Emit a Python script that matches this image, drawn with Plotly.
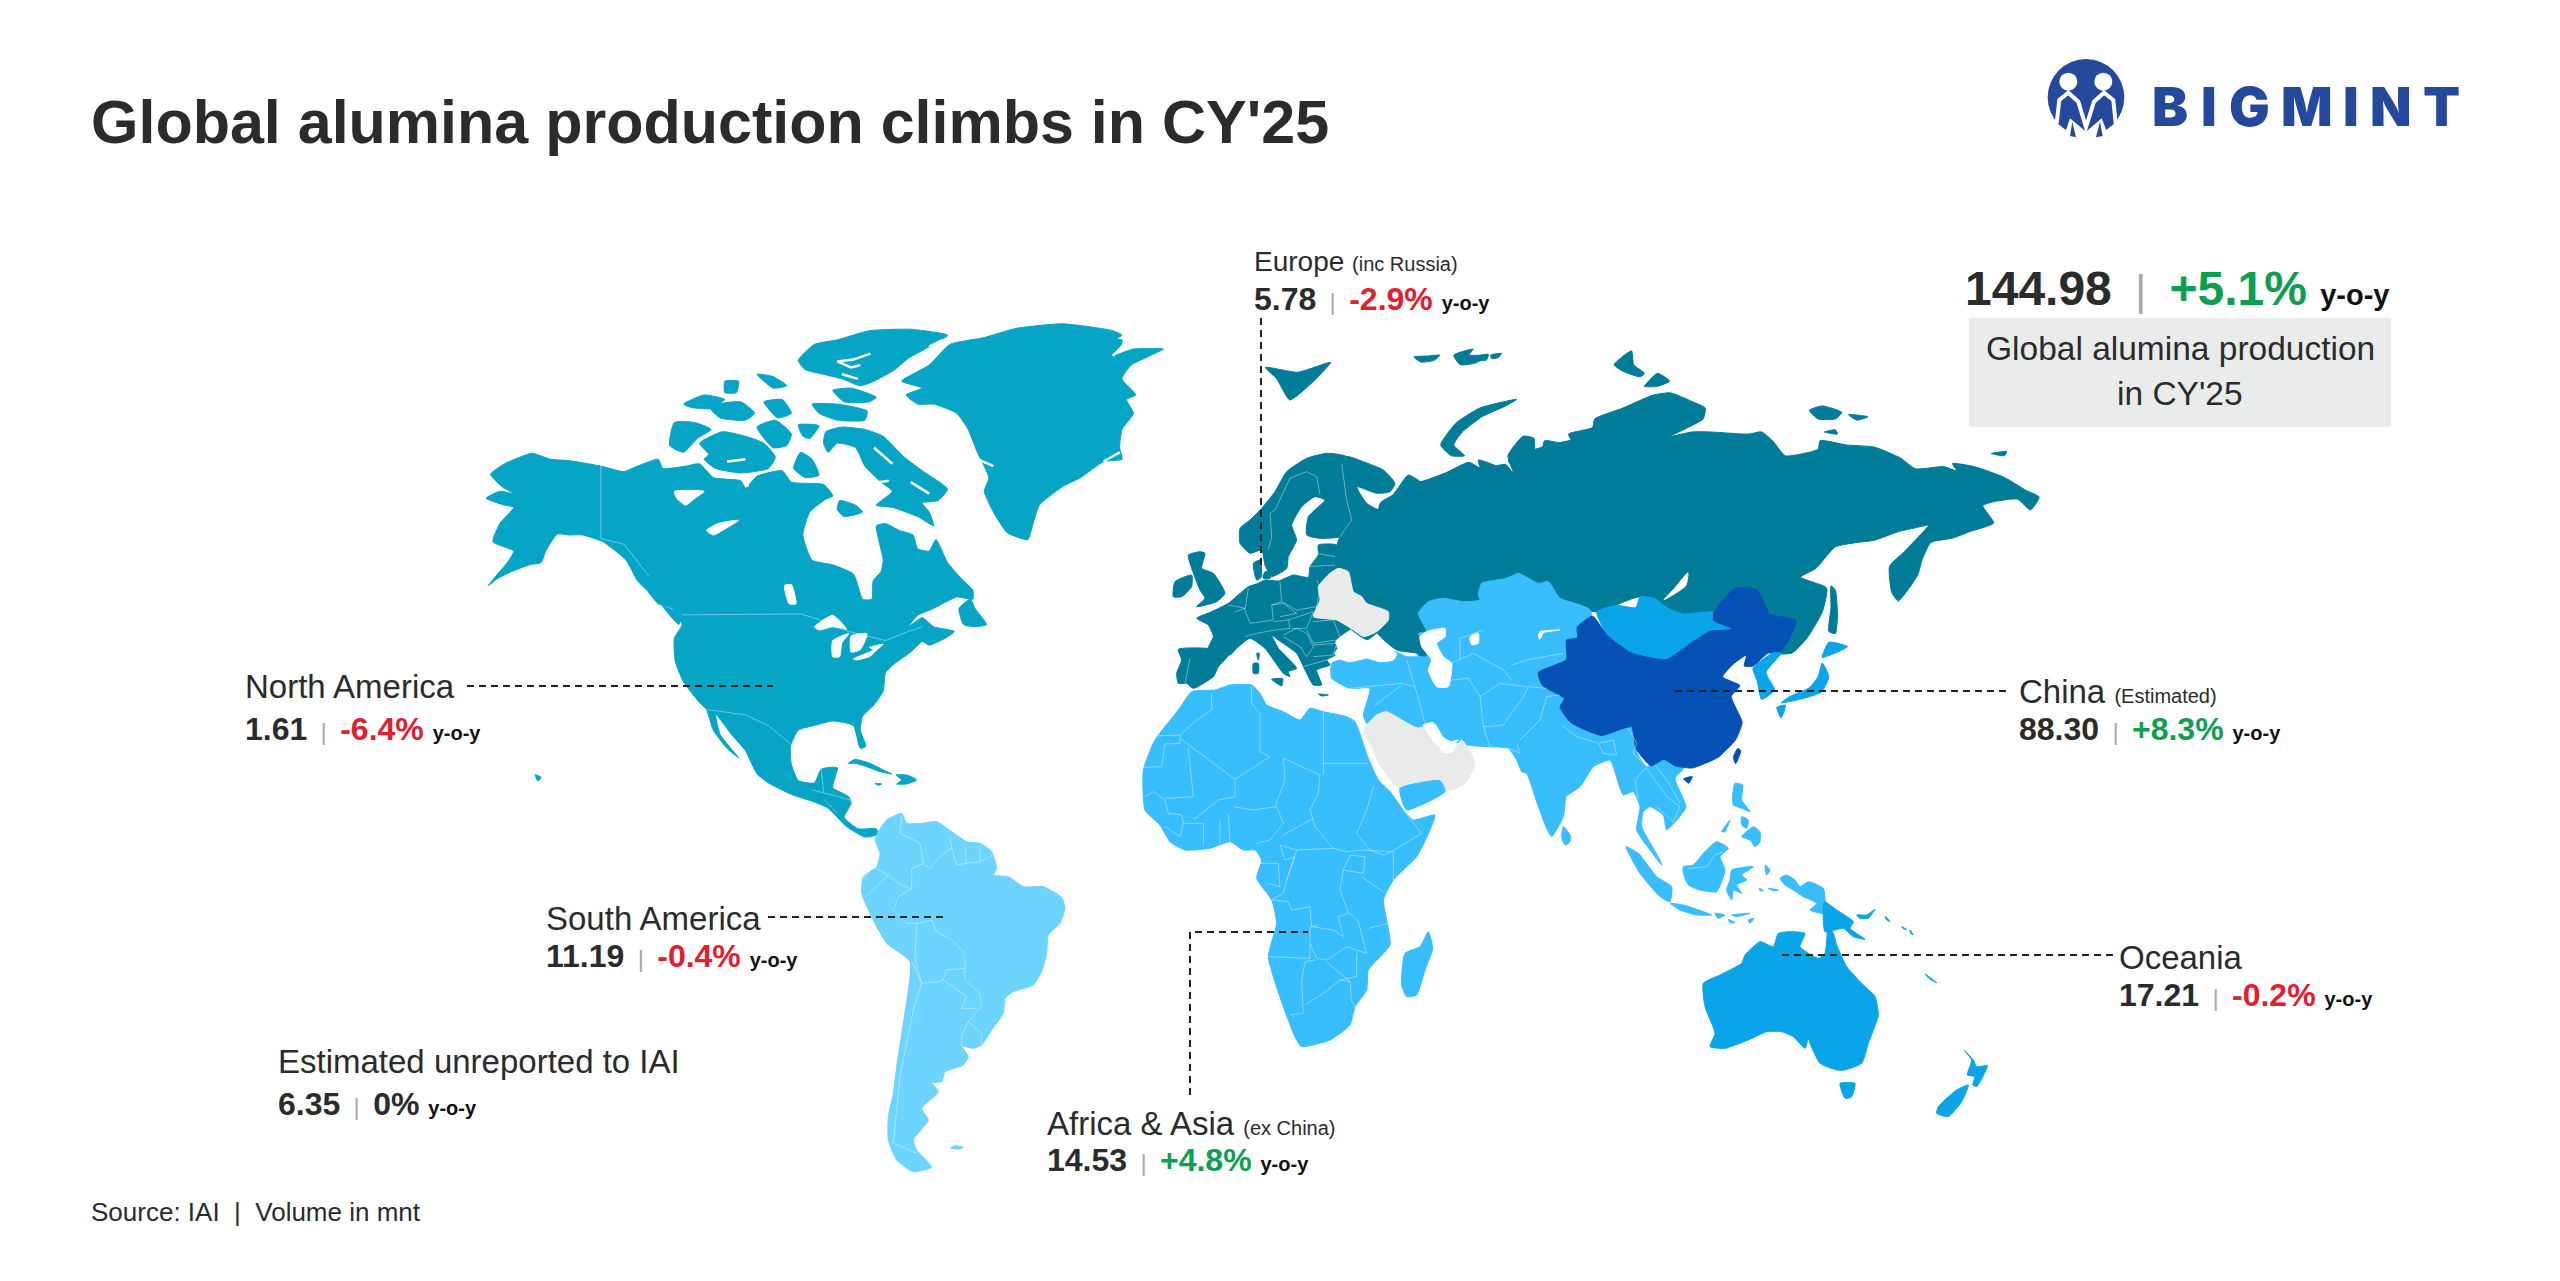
import plotly.graph_objects as go

FONT = "Liberation Sans"
DARK = "#2b2b2b"
RED = "#e0202e"
GREEN = "#0f9d50"

# colours of the map groups
C_NA = "#06a5c5"
C_EU = "#007c98"
C_AS = "#38bdff"
C_SA = "#6dd3ff"
C_CN = "#0450b4"
C_OC = "#0aa5e8"
C_NO = "#e9ebeb"

# the values printed on the chart
regions = ["North America", "South America", "Africa & Asia", "Europe", "China", "Oceania", "Estimated unreported to IAI"]
region_notes = ["", "", "(ex China)", "(inc Russia)", "(Estimated)", "", ""]
volumes = ["1.61", "11.19", "14.53", "5.78", "88.30", "17.21", "6.35"]
changes = ["-6.4%", "-0.4%", "+4.8%", "-2.9%", "+8.3%", "-0.2%", "0%"]
global_volume = "144.98"
global_change = "+5.1%"

# outlines were traced off enlarged crops, so each carries the crop it came from
# (left, top, zoom)
A = (470, 310, 2.178)
B = (1150, 440, 3)
C = (1380, 330, 2.306)
D = (1560, 700, 3)
E = (1120, 660, 3)
F = (680, 660, 3)
G = (2020, 40, 3)
V = (0, 0, 0.6125)

north_america = [(45,358),(75,335),(105,322),(135,312),(175,325),(215,328),(285,340),(335,352),(365,340),(410,325),(420,345),(470,340),(500,335),(530,365),(590,372),(600,388),(625,362),(680,350),(700,375),(770,380),(790,405),(775,412),(740,440),(725,490),(745,545),(790,555),(835,575),(845,600),(855,630),(875,630),(878,590),(895,570),(900,545),(890,500),(885,470),(905,465),(935,480),(965,490),(975,520),(1000,525),(1015,500),(1040,550),(1070,585),(1095,610),(1095,630),(1060,625),(1010,650),(975,665),(955,690),(985,670),(1010,690),(1055,700),(1040,712),(1000,730),(985,722),(960,745),(925,770),(905,790),(900,830),(880,860),(855,885),(850,915),(862,950),(850,955),(835,905),(790,895),(750,905),(715,915),(698,950),(700,990),(715,1025),(750,1030),(765,1000),(800,997),(790,1040),(825,1060),(830,1075),(815,1105),(845,1130),(885,1130),(888,1142),(860,1148),(820,1125),(780,1085),(745,1070),(700,1055),(650,1030),(625,1010),(600,960),(570,925),(535,880),(545,925),(585,975),(560,955),(530,915),(515,870),(500,855),(465,810),(447,765),(445,715),(462,685),(440,650),(410,640),(385,610),(365,590),(340,545),(290,505),(245,490),(215,490),(190,488),(165,525),(155,550),(130,555),(90,570),(60,585),(40,600),(85,545),(95,525),(50,505),(65,465),(95,430),(75,425),(35,410),(65,395),(95,400),(70,385)]
greenland = [(1190,40),(1290,30),(1400,45),(1420,55),(1390,70),(1320,72),(1420,65),(1415,85),(1400,100),(1445,85),(1510,85),(1480,100),(1440,120),(1420,150),(1450,185),(1430,195),(1445,225),(1420,260),(1415,300),(1420,325),(1380,330),(1330,365),(1290,385),(1240,425),(1225,470),(1215,500),(1170,485),(1140,440),(1120,395),(1130,365),(1105,310),(1085,260),(1060,225),(1010,205),(975,205),(950,185),(985,170),(940,155),(1000,120),(1045,75),(1120,60)]
ellesmere = [(715,110),(750,75),(800,65),(870,45),(960,42),(1040,55),(1000,80),(955,105),(925,130),(880,155),(850,165),(810,150),(770,140),(730,130)]
axel = [(790,175),(830,170),(885,190),(870,200),(815,200)]
devon = [(745,205),(800,205),(865,220),(860,240),(800,240),(760,225)]
baffin = [(775,265),(810,255),(860,260),(900,275),(945,320),(985,350),(1040,390),(1020,415),(985,420),(1000,440),(1010,470),(975,450),(920,430),(885,425),(920,395),(895,375),(860,340),(840,300),(800,290),(780,310),(770,290)]
southampton = [(805,415),(840,425),(855,440),(815,450),(800,435)]
banks = [(445,245),(490,245),(525,260),(495,280),(465,310),(435,295)]
victoria = [(500,290),(550,265),(600,275),(640,290),(665,320),(650,345),(590,355),(535,345),(510,325),(520,315)]
somerset = [(720,310),(745,325),(760,360),(730,365),(705,345)]
melville = [(465,205),(510,185),(555,195),(520,215),(480,212)]
melville2 = [(520,210),(590,200),(620,225),(600,240),(545,235)]
prince_patrick = [(625,255),(665,240),(700,270),(690,295),(660,300)]
bathurst = [(640,200),(680,195),(700,225),(670,235)]
cornwallis = [(625,140),(660,145),(690,165),(660,170)]
amund = [(555,155),(585,155),(580,180),(555,180)]
bylot = [(715,250),(760,252),(740,280),(725,275)]
newfoundland = [(1065,650),(1090,630),(1100,650),(1125,685),(1100,690),(1075,685)]
vancouver = [(420,645),(460,665),(455,685)]
hawaii = [(142,1012),(155,1018),(148,1026)]
cuba = [(505,310),(525,298),(570,310),(610,330),(635,342),(600,335),(560,320),(525,310)]
hispaniola = [(648,345),(680,345),(710,360),(680,372),(650,372),(665,360)]
jamaica = [(585,370),(605,372),(595,376)]
na_lakes = [
    [(445,395),(510,395),(490,410),(470,425),(450,410)],
    [(515,480),(540,465),(585,458),(550,480),(530,490)],
    [(685,600),(700,598),(710,640),(695,640)],
    [(750,690),(790,665),(820,695),(790,690),(760,697)],
    [(790,720),(825,705),(810,725),(805,755),(790,755)],
    [(830,710),(865,705),(850,740),(830,745)],
    [(835,760),(870,745),(895,730),(870,755),(840,762)],
    [(870,735),(900,728),(885,740)],
]
# narrow fjords and sounds, white strokes over the arctic land
inlets = [
    [(800,112),(835,108),(872,95)], [(800,112),(830,125),(850,120)], [(810,140),(845,150)], [(1000,80),(1030,65)],
    [(880,300),(920,335)], [(960,375),(1000,400)], [(1400,100),(1425,75)], [(1380,330),(1415,310)],
    [(1105,325),(1140,340)], [(560,330),(600,325)], [(600,365),(605,385)], [(890,375),(912,372)],
]

south_america = [(595,515),(620,480),(665,460),(680,490),(725,490),(770,485),(815,515),(860,545),(900,550),(935,575),(950,625),(940,645),(985,650),(1030,680),(1090,680),(1145,712),(1155,745),(1140,790),(1105,825),(1100,880),(1085,935),(1060,975),(1000,995),(975,1015),(970,1060),(935,1110),(905,1155),(880,1165),(845,1158),(865,1190),(850,1215),(795,1235),(785,1265),(755,1268),(775,1295),(725,1345),(745,1380),(700,1440),(710,1470),(755,1522),(700,1535),(650,1500),(625,1440),(625,1370),(640,1300),(650,1220),(670,1090),(690,905),(620,850),(585,790),(545,700),(550,650),(590,620),(600,580),(585,540)]
falklands = [(812,1463),(828,1457),(850,1462),(835,1468)]

africa = [(215,95),(285,90),(330,75),(395,75),(420,100),(440,135),(490,155),(540,180),(570,145),(610,155),(680,170),(705,185),(745,295),(775,360),(810,395),(850,450),(880,480),(945,465),(930,510),(890,590),(820,660),(790,720),(800,780),(810,855),(745,930),(740,990),(705,1040),(690,1095),(630,1140),(545,1160),(525,1130),(490,1040),(445,890),(470,790),(455,720),(410,655),(425,600),(405,570),(370,570),(330,545),(270,565),(195,570),(150,545),(120,495),(75,450),(70,330),(105,240),(175,150)]
madagascar = [(925,815),(938,865),(915,930),(890,1005),(860,1010),(845,975),(855,880),(900,860)]

iberia = [(85,628),(170,625),(235,645),(205,680),(190,710),(130,745),(110,730),(85,730),(80,700),(95,660)]
europe_main = [(140,535),(185,515),(235,490),(295,440),(325,430),(345,420),(385,423),(430,405),(475,412),(480,380),(505,345),(505,315),(560,315),(600,400),(700,500),(720,520),(690,570),(650,600),(600,570),(555,605),(565,640),(530,660),(540,675),(500,690),(515,735),(490,735),(465,690),(440,640),(385,600),(365,585),(385,625),(440,685),(415,695),(420,710),(400,700),(345,625),(300,595),(260,625),(240,645),(175,625),(190,590),(175,555)]
scandinavia = [(270,265),(300,240),(335,205),(375,155),(410,95),(470,55),(530,40),(590,50),(620,140),(610,240),(570,290),(510,295),(470,285),(475,230),(525,180),(495,170),(455,200),(425,255),(440,300),(415,350),(410,385),(365,410),(345,375),(335,330),(300,340),(270,310)]
britain = [(150,335),(165,340),(155,385),(190,400),(225,460),(200,485),(140,500),(165,475),(150,450),(125,385),(115,345)]
ireland = [(70,470),(75,425),(125,405),(125,440),(95,470)]
denmark = [(310,370),(330,360),(335,410),(320,420)]
zealand = [(345,395),(360,395),(360,415),(340,415)]
sicily = [(365,718),(398,716),(395,738)]
sardinia = [(310,670),(325,670),(325,700),(310,700)]
corsica = [(320,640),(328,640),(325,660)]
crete = [(505,762),(535,765),(515,768)]
russia_west = [(590,50),(640,65),(700,90),(735,130),(720,155),(680,160),(620,140),(650,190),(690,210),(725,180),(770,150),(775,105),(810,125),(800,135),(860,110),(900,100),(970,90),(995,100),(985,60),(1070,90),(1100,100),(1075,60),(1320,0),(1320,520),(820,660),(800,640),(740,630),(680,575),(715,520),(640,470),(610,455),(590,390),(570,385),(560,320),(570,290),(610,240),(590,180),(575,110)]
russia_east = [(0,400),(30,380),(65,335),(90,350),(150,330),(205,305),(235,320),(290,310),(310,335),(295,290),(330,245),(355,250),(355,310),(355,340),(330,370),(355,375),(375,345),(410,350),(400,335),(365,320),(375,270),(380,255),(445,265),(435,240),(490,225),(495,205),(560,180),(630,150),(670,145),(720,165),(750,180),(745,205),(700,230),(670,245),(720,235),(760,235),(850,240),(880,235),(905,255),(935,290),(1010,275),(1015,255),(1075,265),(1140,270),(1200,295),(1235,320),(1300,315),(1330,325),(1320,308),(1370,315),(1440,340),(1490,370),(1520,385),(1500,415),(1470,390),(1420,395),(1390,405),(1415,445),(1360,465),(1320,480),(1270,490),(1250,530),(1240,565),(1195,625),(1180,605),(1175,545),(1210,510),(1265,450),(1240,455),(1195,465),(1140,485),(1100,490),(1050,500),(1005,550),(970,570),(1030,595),(1020,650),(985,710),(950,745),(910,745),(960,670),(900,655),(870,600),(820,595),(770,650),(700,655),(600,615),(500,650),(430,630),(390,580),(320,565),(235,590),(225,625),(0,700)]
novaya_zemlya = [(140,265),(175,215),(230,180),(315,160),(290,175),(235,200),(190,235),(170,265),(195,290),(165,290)]
severnaya1 = [(540,80),(580,48),(585,80),(610,100),(600,108),(560,95)]
severnaya2 = [(610,130),(640,100),(668,118),(640,130)]
franz1 = [(78,62),(110,60),(138,58),(125,70),(95,74)]
franz2 = [(170,58),(215,44),(205,58),(250,58),(220,76),(185,80)]
franz3 = [(222,62),(250,56),(245,70),(225,70)]
franz4 = [(255,58),(280,54),(272,64),(258,66)]
new_siberia1 = [(990,185),(1020,175),(1065,190),(1050,205),(1010,205)]
new_siberia2 = [(1080,195),(1125,200),(1100,208)]
new_siberia3 = [(1025,235),(1050,230),(1055,240)]
wrangel = [(1410,285),(1445,280),(1440,290)]
sakhalin = [(1040,590),(1050,600),(1055,660),(1050,700),(1035,695),(1040,640)]
svalbard = [(775,225),(795,228),(815,222),(803,235),(790,245),(782,232)]

ukraine_belarus = [(505,440),(540,400),(565,385),(595,395),(610,455),(635,470),(650,490),(715,515),(715,540),(680,575),(640,590),(610,570),(560,540),(490,530),(510,480)]
arabia = [(640,870),(680,825),(710,815),(800,865),(830,860),(855,905),(880,940),(905,940),(935,900),(975,970),(945,1030),(885,1055),(870,1020),(755,1045),(735,1035),(690,975),(665,920)]
yemen = [(750,1045),(870,1022),(885,1055),(770,1110),(755,1080)]
west_asia = [(545,670),(590,655),(650,655),(690,665),(735,635),(770,650),(810,650),(830,650),(830,630),(805,580),(830,575),(805,520),(835,485),(880,475),(940,485),(990,480),(985,465),(995,430),(1070,415),(1105,400),(1165,430),(1195,425),(1230,475),(1320,510),(1320,950),(1300,1000),(1250,1060),(1240,1130),(1205,1190),(1190,1165),(1160,1085),(1130,1000),(1115,995),(1100,960),(1075,925),(1010,920),(950,915),(885,895),(855,850),(805,862),(700,815),(665,860),(650,850),(640,825),(660,745),(600,745),(545,715)]
south_east_asia = [(0,60),(30,70),(80,100),(120,100),(205,75),(240,120),(230,155),(260,200),(290,185),(325,178),(370,205),(345,235),(378,320),(355,355),(320,390),(310,345),(270,320),(250,335),(245,380),(300,480),(305,495),(270,450),(230,390),(240,320),(220,275),(190,285),(160,200),(150,180),(100,200),(60,260),(5,295),(0,295)]
sri_lanka = [(10,380),(30,405),(30,425),(15,435),(5,410)]
sumatra = [(198,440),(235,460),(290,530),(335,560),(330,605),(300,590),(240,520)]
java = [(330,610),(370,615),(430,635),(455,645),(410,645),(360,630)]
bali = [(465,640),(495,645),(475,655)]
flores = [(515,645),(570,640),(530,650)]
sumba = [(505,658),(525,668),(510,668)]
timor = [(565,660),(582,655),(570,670)]
borneo = [(370,500),(400,495),(430,460),(470,425),(505,445),(480,470),(495,510),(470,575),(420,570),(385,555),(370,520)]
sulawesi = [(515,510),(580,500),(545,525),(560,540),(530,555),(545,580),(520,570),(515,600),(500,570),(510,540)]
luzon = [(525,250),(548,255),(545,300),(570,335),(545,325),(520,315),(518,285)]
visayas = [(545,350),(565,360),(560,385),(545,375)]
mindanao = [(545,410),(580,380),(600,395),(600,425),(585,440),(570,420)]
palawan = [(485,395),(510,360),(495,395)]
halmahera = [(615,495),(630,510),(620,525)]
seram = [(625,565),(655,570),(640,572)]
buru = [(598,565),(610,572),(600,572)]
papua_west = [(660,535),(680,525),(705,540),(720,560),(745,545),(790,565),(793,640),(750,630),(770,610),(730,590),(700,570),(675,555)]
papua_east = [(793,605),(830,630),(880,665),(870,685),(915,718),(880,710),(850,685),(795,695)]
new_britain = [(890,645),(920,645),(945,628),(925,655),(900,655)]
solomons1 = [(975,648),(990,665),(980,660)]
solomons2 = [(1025,680),(1040,688),(1030,686)]
solomons3 = [(1050,690),(1060,705),(1052,700)]
new_caledonia = [(1095,822),(1130,848),(1110,838)]
australia = [(430,850),(480,825),(545,790),(555,765),(600,725),(640,740),(655,700),(690,695),(735,700),(720,740),(775,775),(795,760),(805,680),(820,700),(830,735),(860,800),(905,850),(945,890),(955,945),(925,1030),(905,1090),(855,1110),(830,1110),(780,1090),(750,1030),(745,1015),(735,1045),(700,1010),(665,995),(620,995),(565,1020),(495,1045),(450,1040),(465,1000),(435,920)]
tasmania = [(840,1150),(885,1150),(875,1190),(855,1195)]
nz_north = [(1212,1050),(1240,1080),(1250,1100),(1282,1097),(1250,1160),(1238,1155),(1245,1130),(1222,1125),(1235,1080)]
nz_south = [(1190,1170),(1225,1155),(1205,1205),(1165,1250),(1130,1240),(1135,1220)]

mongolia = [(500,650),(545,635),(590,640),(600,615),(635,620),(660,640),(700,655),(770,650),(775,670),(815,690),(760,695),(720,720),(660,760),(580,745),(525,705)]
china = [(365,790),(430,760),(430,715),(455,710),(455,685),(490,660),(525,705),(580,745),(660,760),(720,720),(760,695),(815,690),(770,670),(770,650),(820,595),(870,600),(900,655),(960,670),(945,710),(920,745),(895,745),(860,775),(840,775),(845,750),(815,770),(790,800),(830,820),(810,845),(835,905),(820,945),(780,985),(720,1010),(680,1005),(655,990),(625,1005),(590,965),(580,915),(510,935),(440,905),(415,870),(425,850),(375,820)]
hainan = [(700,1035),(720,1030),(712,1045)]
taiwan = [(825,965),(832,970),(820,1000),(815,985)]
korea = [(860,780),(905,745),(925,745),(890,790),(910,830),(880,852),(870,810)]
hokkaido = [(1035,720),(1078,730),(1050,745),(1020,755)]
honshu = [(1020,768),(1035,800),(1018,835),(975,850),(925,860),(945,845),(990,825),(1010,800)]
kyushu = [(915,870),(935,865),(925,895)]

water = [
    (B, [(555,640),(580,605),(600,570),(625,590),(655,605),(690,625),(740,640),(730,660),(690,665),(650,655),(600,665),(565,655)]),
    (B, [(810,590),(830,575),(885,565),(885,590),(860,610),(880,650),(905,670),(895,740),(860,740),(835,690),(845,660),(815,620)]),
    (B, [(960,590),(985,580),(985,610),(965,615)]),
    (B, [(1165,590),(1170,575),(1230,570),(1180,578),(1170,598)]),
    (C, [(710,560),(705,590),(655,622),(680,595)]),
    (B, [(820,855),(850,848),(865,880),(900,905),(925,900),(920,905),(880,925),(855,910),(835,880)]),
]

# thin borders inside the groups
borders = [
    (A, [(285,340),(285,498),(335,510),(390,580)]),
    (A, [(462,664),(720,662),(780,680),(825,700),(905,720),(955,700),(985,690)]),
    (A, [(515,870),(600,882),(650,905),(698,945)]),
    (A, [(765,1000),(770,1050)]), (A, [(745,1045),(800,1060),(832,1068)]), (A, [(770,1065),(800,1095)]),
    (F, [(665,470),(660,520),(720,550),(730,610),(750,625),(790,580),(815,565),(810,530)]),
    (F, [(815,565),(830,615),(860,610),(900,605),(940,585)]), (F, [(855,560),(860,610)]), (F, [(900,560),(900,605)]),
    (F, [(730,610),(695,625),(695,685),(655,710),(640,750),(680,790),(710,790),(755,780),(770,815),(815,840),(855,880),(855,960),(900,1000),(905,1040),(865,1085),(845,1125),(845,1158)]),
    (F, [(550,655),(580,620),(625,645),(655,670),(690,685)]), (F, [(625,645),(590,680),(555,710)]),
    (F, [(710,790),(705,900),(725,970),(775,965),(790,960),(800,930),(855,925)]),
    (F, [(695,905),(725,970),(700,1050),(680,1150),(660,1250),(650,1350),(640,1450),(710,1480)]),
    (F, [(790,960),(860,1010),(845,1045),(895,1045)]), (F, [(865,1085),(905,1120),(905,1155)]),
    (E, [(275,100),(275,150),(230,180),(180,225),(105,228)]), (E, [(180,225),(180,250),(135,252),(125,320),(70,322)]),
    (E, [(180,235),(345,358),(450,290)]), (E, [(205,265),(220,410),(135,415)]),
    (E, [(395,80),(395,130),(420,160),(420,275),(450,290)]), (E, [(610,155),(610,345)]), (E, [(490,295),(600,345)]),
    (E, [(490,295),(495,360),(465,440)]), (E, [(610,310),(745,310)]),
    (E, [(600,345),(595,400),(570,450),(585,500),(640,565)]),
    (E, [(345,358),(345,410),(295,420),(220,480)]), (E, [(340,440),(400,450),(470,440),(490,490),(450,540),(410,550)]),
    (E, [(490,525),(580,475)]), (E, [(480,555),(530,570),(640,565),(680,575),(730,570),(820,575)]),
    (E, [(760,380),(740,450),(710,520),(750,570),(790,585),(815,575),(905,520),(850,450)]),
    (E, [(820,575),(820,660)]), (E, [(725,650),(795,700)]),
    (E, [(530,570),(500,660),(490,700),(455,720),(505,725),(515,750),(570,740),(575,800),(640,810),(670,830),(655,770),(685,760),(660,690),(670,630),(690,585)]),
    (E, [(690,585),(735,590),(730,640),(670,630)]), (E, [(445,890),(570,895),(570,800),(595,795)]),
    (E, [(570,850),(590,895),(620,900),(680,860),(710,870),(740,880),(715,785),(690,760)]), (E, [(745,805),(805,790)]),
    (E, [(585,900),(555,905),(545,965),(550,1060),(510,1065)]), (E, [(555,1035),(610,1000),(660,960),(690,965),(620,905)]),
    (E, [(660,960),(710,950),(710,880)]), (E, [(690,965),(695,1025),(705,1040)]),
    (E, [(75,410),(100,395),(135,420),(145,460),(185,465),(190,490),(250,490),(250,560)]), (E, [(300,480),(300,550)]), (E, [(325,460),(330,545)]),
    (E, [(135,500),(180,530),(190,490)]), (E, [(480,555),(495,600),(525,590),(500,660)]), (E, [(415,610),(475,610),(480,680),(445,670)]),
    (B, [(375,210),(420,115),(470,95),(500,110),(510,165)]), (B, [(375,210),(360,220),(365,290),(355,330)]), (B, [(575,70),(590,180),(605,240),(570,290)]),
    (B, [(295,445),(285,510),(300,550),(370,540),(365,495),(395,485),(390,425)]),
    (B, [(395,485),(440,510),(500,500),(510,440),(500,420)]), (B, [(365,495),(400,490),(440,520),(390,530)]),
    (B, [(370,545),(415,540),(420,565),(375,570),(320,580),(285,590)]), (B, [(415,540),(490,515),(470,565),(425,565)]),
    (B, [(490,545),(550,540),(570,590),(560,600),(490,610),(470,570)]), (B, [(490,615),(560,610),(550,645),(490,650)]),
    (B, [(400,585),(440,565),(470,580),(490,620),(470,650),(450,620),(400,590)]), (B, [(460,680),(530,660)]),
    (B, [(235,495),(285,505),(255,515)]), (B, [(120,655),(105,730)]), (B, [(475,380),(555,375)]), (B, [(500,340),(555,350)]),
    (B, [(930,660),(930,595),(1000,570)]), (B, [(905,670),(970,640),(1060,690),(1085,720)]), (B, [(1085,675),(1130,660),(1240,640)]),
    (B, [(990,770),(1000,860),(1020,920)]), (B, [(770,660),(795,740),(825,850)]), (B, [(905,720),(955,715),(990,770),(1050,730),(1130,740)]),
    (B, [(1000,860),(1060,855),(1120,770),(1135,740),(1190,745)]), (B, [(1110,900),(1170,840),(1190,770),(1230,765)]),
    (B, [(1075,925),(1110,940),(1100,910)]), (B, [(600,745),(755,730),(795,740)]), (B, [(670,800),(755,735)]),
    (D, [(5,75),(50,110),(110,128)]), (D, [(115,130),(160,120),(170,165),(130,160),(115,130)]),
    (D, [(205,85),(230,130),(220,160),(260,200),(225,240),(235,300)]), (D, [(260,205),(320,290),(360,320),(340,365),(290,320)]),
    (D, [(285,195),(320,240),(360,310)]), (D, [(385,505),(440,500),(465,465),(490,455)]),
]

# leader lines (x list, y list)
leader_x = [[467, 773], [768, 944], [1190, 1190, 1308], [1261, 1261], [1675, 2007], [1782, 2114]]
leader_y = [[686, 686], [917, 917], [1095, 932, 932], [318, 570], [691, 691], [955, 955]]

# label anchors: name line and value line, same order as regions
label_x = [243, 544, 1045, 1252, 2017, 2117, 276]
name_y = [686, 918, 1123, 261, 691, 957, 1061]
value_y = [729, 956, 1160, 299, 729, 995, 1104]


def px(frame, pts):
    left, top, k = frame
    xs = [left + p[0] / k for p in pts]
    ys = [top + p[1] / k for p in pts]
    return xs, ys


land = [
    (C_NA, A, north_america), (C_NA, A, greenland), (C_NA, A, ellesmere), (C_NA, A, axel), (C_NA, A, devon),
    (C_NA, A, baffin), (C_NA, A, southampton), (C_NA, A, banks), (C_NA, A, victoria), (C_NA, A, somerset),
    (C_NA, A, melville), (C_NA, A, melville2), (C_NA, A, prince_patrick), (C_NA, A, bathurst), (C_NA, A, cornwallis),
    (C_NA, A, amund), (C_NA, A, bylot), (C_NA, A, newfoundland), (C_NA, A, vancouver), (C_NA, A, hawaii),
    (C_NA, F, cuba), (C_NA, F, hispaniola), (C_NA, F, jamaica),
    (C_SA, F, south_america), (C_SA, F, falklands),
    (C_EU, B, iberia), (C_EU, B, europe_main), (C_EU, B, scandinavia), (C_EU, B, britain), (C_EU, B, ireland),
    (C_EU, B, denmark), (C_EU, B, zealand), (C_EU, B, sicily), (C_EU, B, sardinia), (C_EU, B, corsica), (C_EU, B, crete),
    (C_EU, B, russia_west), (C_EU, C, russia_east), (C_EU, C, novaya_zemlya), (C_EU, C, severnaya1), (C_EU, C, severnaya2),
    (C_EU, C, franz1), (C_EU, C, franz2), (C_EU, C, franz3), (C_EU, C, franz4), (C_EU, C, new_siberia1),
    (C_EU, C, new_siberia2), (C_EU, C, new_siberia3), (C_EU, C, wrangel), (C_EU, C, sakhalin), (C_EU, V, svalbard),
    (C_NO, B, ukraine_belarus),
    (C_AS, E, africa), (C_AS, E, madagascar), (C_AS, B, west_asia), (C_AS, D, south_east_asia), (C_NO, B, arabia), (C_AS, B, yemen),
    (C_AS, D, sri_lanka), (C_AS, D, sumatra), (C_AS, D, java), (C_AS, D, bali), (C_AS, D, flores), (C_AS, D, sumba), (C_AS, D, timor),
    (C_AS, D, borneo), (C_AS, D, sulawesi), (C_AS, D, luzon), (C_AS, D, visayas), (C_AS, D, mindanao), (C_AS, D, palawan),
    (C_AS, D, halmahera), (C_AS, D, seram), (C_AS, D, buru), (C_AS, D, papua_west),
    (C_OC, D, papua_east), (C_OC, D, new_britain), (C_OC, D, solomons1), (C_OC, D, solomons2), (C_OC, D, solomons3),
    (C_OC, D, new_caledonia), (C_OC, D, australia), (C_OC, D, tasmania), (C_OC, D, nz_north), (C_OC, D, nz_south),
    (C_OC, C, mongolia), (C_CN, C, china), (C_CN, C, hainan), (C_CN, C, taiwan),
    (C_OC, C, korea), (C_OC, C, hokkaido), (C_OC, C, honshu), (C_OC, C, kyushu),
]

fig = go.Figure()

# slight spline so the traced coasts don't look cut with scissors
for colour, frame, outline in land:
    xs, ys = px(frame, outline + outline[:1])
    fig.add_trace(go.Scatter(x=xs, y=ys, mode="lines", fill="toself", fillcolor=colour,
                             line=dict(color=colour, width=1, shape="spline", smoothing=0.5),
                             hoverinfo="skip", showlegend=False))

for frame, outline in water + [(A, lake) for lake in na_lakes]:
    xs, ys = px(frame, outline + outline[:1])
    fig.add_trace(go.Scatter(x=xs, y=ys, mode="lines", fill="toself", fillcolor="white",
                             line=dict(color="white", width=1, shape="spline", smoothing=0.5),
                             hoverinfo="skip", showlegend=False))

for line in inlets:
    xs, ys = px(A, line)
    fig.add_trace(go.Scatter(x=xs, y=ys, mode="lines", line=dict(color="white", width=2.5),
                             hoverinfo="skip", showlegend=False))

for frame, line in borders:
    xs, ys = px(frame, line)
    fig.add_trace(go.Scatter(x=xs, y=ys, mode="lines", line=dict(color="rgba(255,255,255,0.4)", width=1),
                             hoverinfo="skip", showlegend=False))

for xs, ys in zip(leader_x, leader_y):
    fig.add_trace(go.Scatter(x=xs, y=ys, mode="lines", line=dict(color="#222222", width=2, dash="7px,5px"),
                             hoverinfo="skip", showlegend=False))


def note(x, y, text, size, colour=DARK, anchor="left"):
    fig.add_annotation(x=x, y=y, xref="x", yref="y", text=text, showarrow=False, xanchor=anchor, yanchor="middle",
                       align=anchor, font=dict(family=FONT, size=size, color=colour))


def value_line(volume, change, size, small, bar_size):
    if change.startswith("-"):
        colour = RED
    elif change.startswith("+"):
        colour = GREEN
    else:
        colour = DARK
    bar = '<span style="color:#a8a8a8;font-size:%dpx">  |  </span>' % bar_size
    return '<b>%s</b>%s<span style="color:%s"><b>%s</b></span> <span style="color:#111111;font-size:%dpx"><b>y-o-y</b></span>' % (
        volume, bar, colour, change, small)


note(89, 122, "<b>Global alumina production climbs in CY'25</b>", 61)
note(89, 1212, "Source: IAI  |  Volume in mnt", 26)

for i in range(len(regions)):
    name = regions[i]
    if region_notes[i]:
        name += ' <span style="font-size:20px">%s</span>' % region_notes[i]
    note(label_x[i], name_y[i], name, 33 if i != 3 else 28)
    note(label_x[i], value_y[i], value_line(volumes[i], changes[i], 32, 20, 24), 32)

note(1963, 288, value_line(global_volume, global_change, 48, 29, 42), 48)
note(2180, 348, "Global alumina production", 33.5, anchor="center")
note(2180, 393, "in CY'25", 33.5, anchor="center")

# grey box behind the global caption
fig.add_shape(type="rect", x0=1969, x1=2391, y0=318, y1=427, fillcolor="#eaecec", line_width=0, layer="below")

# logo, drawn from the crop it was traced on
LOGO = "#24489c"
gx, gy = G[0], G[1]


def logo_path(points):
    xs, ys = px(G, points)
    return "M " + " L ".join("%.1f %.1f" % (a, b) for a, b in zip(xs, ys))


fig.add_shape(type="circle", x0=gx + 83 / 3, x1=gx + 313 / 3, y0=gy + 57 / 3, y1=gy + 287 / 3, fillcolor=LOGO, line_width=0)
for cx in (145, 250):
    fig.add_shape(type="circle", x0=gx + (cx - 27) / 3, x1=gx + (cx + 27) / 3, y0=gy + 98 / 3, y1=gy + 152 / 3,
                  fillcolor="white", line_width=0)
fig.add_shape(type="path", path=logo_path([(110, 250), (118, 180), (145, 158), (175, 185), (198, 262), (222, 185), (252, 158), (280, 180), (287, 250)]),
              line=dict(color="white", width=4))
fig.add_shape(type="path", path=logo_path([(128, 300), (150, 235), (198, 275), (245, 235), (270, 300)]) + " Z", fillcolor="white", line_width=0)
fig.add_shape(type="path", path=logo_path([(150, 288), (157, 245), (168, 292)]) + " Z", fillcolor=LOGO, line_width=0)
fig.add_shape(type="path", path=logo_path([(228, 292), (240, 245), (248, 288)]) + " Z", fillcolor=LOGO, line_width=0)

logo_letters = ["B", "I", "G", "M", "I", "N", "T"]
logo_centres = [450, 568, 688, 860, 992, 1112, 1265]
for letter, centre in zip(logo_letters, logo_centres):
    fig.add_annotation(x=gx + centre / 3, y=106, xref="x", yref="y", text=letter, showarrow=False,
                       xanchor="center", yanchor="middle", font=dict(family="Inter", size=54, color=LOGO, weight=900))

fig.update_xaxes(range=[0, 2560], visible=False, fixedrange=True)
fig.update_yaxes(range=[1281, 0], visible=False, fixedrange=True)
fig.update_layout(width=2560, height=1281, margin=dict(l=0, r=0, t=0, b=0),
                  paper_bgcolor="white", plot_bgcolor="white", showlegend=False)
# the browser's default page margin would push the fixed-size figure off by 8px
fig.write_html("out.html", config={"displayModeBar": False}, post_script="document.body.style.margin = '0';")
